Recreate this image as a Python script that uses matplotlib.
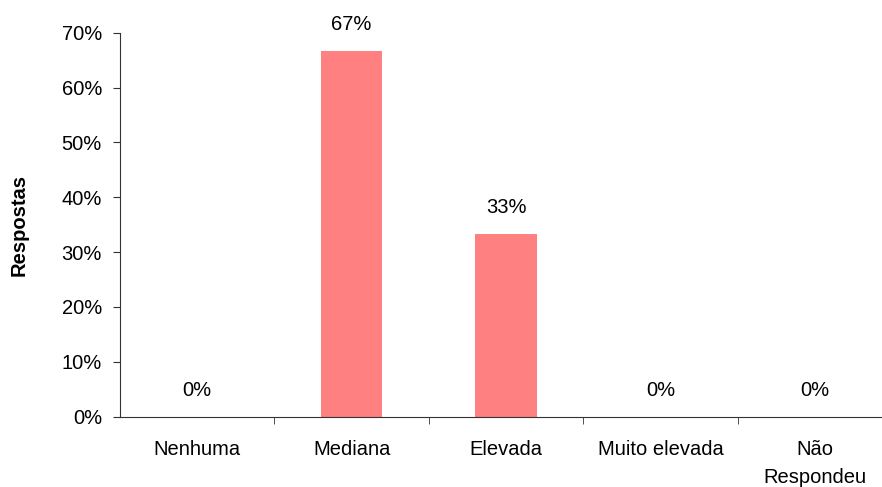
import numpy as np
import matplotlib
matplotlib.use('Agg')
from matplotlib import pyplot as plt
from matplotlib.ticker import FuncFormatter, FixedLocator

categories = ['Nenhuma', 'Mediana', 'Elevada', 'Muito elevada', 'Não\nRespondeu']
values = [0.0, 66.67, 33.33, 0.0, 0.0]
yticks = [0, 10, 20, 30, 40, 50, 60, 70]

plt.rcParams['font.family'] = ['Liberation Sans', 'DejaVu Sans']

fig = plt.figure(figsize=(8.82, 4.87), dpi=100)
ax = fig.add_axes([120/882, 70.3/487, 772/882, 384/487])

x = np.arange(len(categories))
ax.bar(x, values, width=0.4, color='#FF8080')

for xi, v in zip(x, values):
    ax.annotate('%d%%' % round(v), (xi, v), xytext=(0, 19), textcoords='offset points',
                ha='center', va='center', fontsize=14.5)

ax.set_xlim(-0.5, len(categories) - 0.5)
ax.set_ylim(0, 70)
ax.set_yticks(yticks)
ax.yaxis.set_major_formatter(FuncFormatter(lambda v, p: '%d%%' % v))
ax.set_xticks(x)
ax.set_xticklabels(categories, fontsize=14.5, linespacing=1.55, va='top')
ax.xaxis.set_minor_locator(FixedLocator(x[:-1] + 0.5))
ax.tick_params(axis='x', which='major', length=0, pad=17)
ax.tick_params(axis='x', which='minor', length=5, direction='out', color='#333333')
ax.tick_params(axis='y', length=5, direction='out', labelsize=14.5, pad=8, color='#333333')

for s in ['top', 'right']:
    ax.spines[s].set_visible(False)
for s in ['left', 'bottom']:
    ax.spines[s].set_color('#333333')

ax.set_ylabel('Respostas', fontsize=14.5, fontweight='bold', labelpad=24)

fig.savefig('out.png', dpi=100)
